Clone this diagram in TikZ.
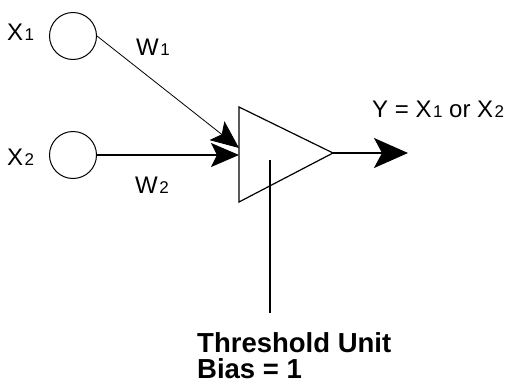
\documentclass[tikz,border=0pt]{standalone}
\usepackage{fontspec}
\setmainfont{Liberation Sans}
\usetikzlibrary{arrows.meta}
\newcommand\smalldig[1]{\kern1.5pt{\fontsize{17}{17}\selectfont #1}}
\tikzset{
  unit/.style={draw, circle, line width=1pt, minimum size=47pt, inner sep=0pt},
  lbl/.style={anchor=base west, inner sep=0pt, font=\fontsize{24}{24}\selectfont},
  blbl/.style={anchor=base west, inner sep=0pt, font=\fontsize{27.5}{27.5}\selectfont\bfseries},
  inarrow/.style={-{Stealth[length=28pt,width=24pt,inset=6pt]}},
  outarrow/.style={-{Stealth[length=34pt,width=30pt,inset=8pt]}, line width=1.8pt},
}
\begin{document}
\begin{tikzpicture}[x=1pt,y=-1pt]
\useasboundingbox (0,0) rectangle (520,386);
% input units
\node[unit] (c1) at (73,36) {};
\node[unit] (c2) at (73,155) {};
\node[lbl] (x1) at (7,40) {X\smalldig{1}};
\node[lbl] (x2) at (7,165) {X\smalldig{2}};
\node[lbl] (w1) at (136,55) {W\smalldig{1}};
\node[lbl] (w2) at (135,193) {W\smalldig{2}};
% threshold unit triangle
\coordinate (tA) at (239,107);
\coordinate (tB) at (239,202);
\coordinate (tC) at (333,153);
\draw[line width=1.2pt, line join=miter] (tA) -- (tB) -- (tC) -- cycle;
% input connections
\coordinate (in1) at (239,148);
\coordinate (in2) at (239,155);
\draw[inarrow, line width=0.8pt] (c1.east) -- (in1);
\draw[inarrow, line width=1.5pt] (c2.east) -- (in2);
% output
\coordinate (out) at (408,153);
\draw[outarrow] (tC) -- (out);
\node[lbl] (y) at (372,117) {Y = X\smalldig{1} or X\smalldig{2}};
% bias line
\coordinate (b1) at (270,160);
\coordinate (b2) at (270,313);
\draw[line width=1.5pt] (b1) -- (b2);
\node[blbl] (th) at (197,352) {Threshold Unit};
\node[blbl] (bias) at (197,378) {Bias = 1};
\end{tikzpicture}
\end{document}
